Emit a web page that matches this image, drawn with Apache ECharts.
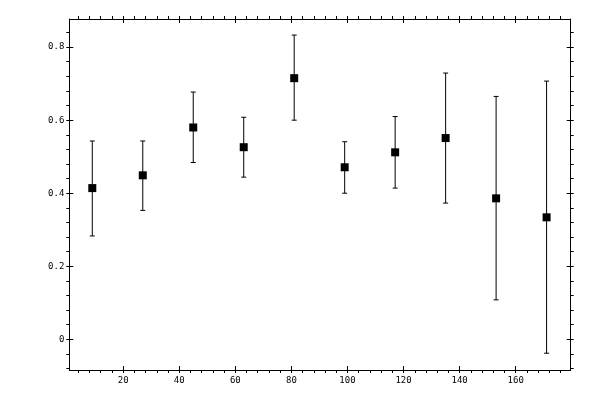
<!DOCTYPE html>
<html>
<head>
<meta charset="utf-8">
<script src="https://cdn.jsdelivr.net/npm/echarts@6/dist/echarts.min.js"></script>
<style>
  html, body { margin: 0; padding: 0; background: #fff; }
  #chart { width: 600px; height: 400px; }
</style>
</head>
<body>
<div id="chart"></div>
<script>
// bin centres and measured values
const xValues = [9, 27, 45, 63, 81, 99, 117, 135, 153, 171]
const means = [0.414, 0.449, 0.580, 0.526, 0.715, 0.471, 0.512, 0.551, 0.386, 0.334]
const upper = [0.543, 0.543, 0.677, 0.608, 0.833, 0.541, 0.610, 0.729, 0.665, 0.707]
const lower = [0.283, 0.353, 0.484, 0.444, 0.600, 0.400, 0.414, 0.373, 0.108, -0.038]
const xTicks = [20, 40, 60, 80, 100, 120, 140, 160]
const yTicks = [0, 0.2, 0.4, 0.6, 0.8]

const xRange = [0.8, 179.6]
const yRange = [-0.084, 0.877]

const font = { color: '#000', fontFamily: 'DejaVu Sans Mono', fontSize: 9 }
const line = { lineStyle: { color: '#000', width: 1 } }

// one axis with outward ticks (+ minor), one with inward ticks, so majors cross the frame
function makeAxis (pos, range, ticks, outward, labels) {
  return {
    type: 'value',
    position: pos,
    min: range[0],
    max: range[1],
    splitNumber: pos === 'bottom' || pos === 'top' ? 9 : 5,
    axisLine: { show: outward, onZero: false, ...line },
    axisTick: { show: true, inside: !outward, length: outward ? 3 : 4, customValues: ticks, ...line },
    minorTick: { show: outward, splitNumber: 5, length: 3, ...line },
    splitLine: { show: false },
    minorSplitLine: { show: false },
    axisLabel: labels
      ? { show: true, ...font, margin: pos === 'left' ? 5 : 6, customValues: ticks }
      : { show: false }
  }
}

const chart = echarts.init(document.getElementById('chart'))

const errData = xValues.map((x, i) => [x, lower[i], upper[i]])
const pointData = xValues.map((x, i) => [x, means[i]])

chart.setOption({
  animation: false,
  grid: { left: 69.3, right: 29.3, top: 19, bottom: 30 },
  xAxis: [
    makeAxis('bottom', xRange, xTicks, true, true),
    makeAxis('bottom', xRange, xTicks, false, false),
    makeAxis('top', xRange, xTicks, true, false),
    makeAxis('top', xRange, xTicks, false, false)
  ],
  yAxis: [
    makeAxis('left', yRange, yTicks, true, true),
    makeAxis('left', yRange, yTicks, false, false),
    makeAxis('right', yRange, yTicks, true, false),
    makeAxis('right', yRange, yTicks, false, false)
  ],
  series: [
    {
      type: 'custom',
      data: errData,
      renderItem: (params, api) => {
        const x = api.value(0)
        const lo = api.coord([x, api.value(1)])
        const hi = api.coord([x, api.value(2)])
        const half = 2.5
        const style = { stroke: '#000', lineWidth: 1 }
        return {
          type: 'group',
          children: [
            { type: 'line', shape: { x1: lo[0], y1: lo[1], x2: hi[0], y2: hi[1] }, style },
            { type: 'line', shape: { x1: hi[0] - half, y1: hi[1], x2: hi[0] + half, y2: hi[1] }, style },
            { type: 'line', shape: { x1: lo[0] - half, y1: lo[1], x2: lo[0] + half, y2: lo[1] }, style }
          ]
        }
      }
    },
    {
      type: 'scatter',
      data: pointData,
      symbol: 'rect',
      symbolSize: 8,
      itemStyle: { color: '#000', opacity: 1 },
      z: 3
    }
  ]
})
</script>
</body>
</html>
